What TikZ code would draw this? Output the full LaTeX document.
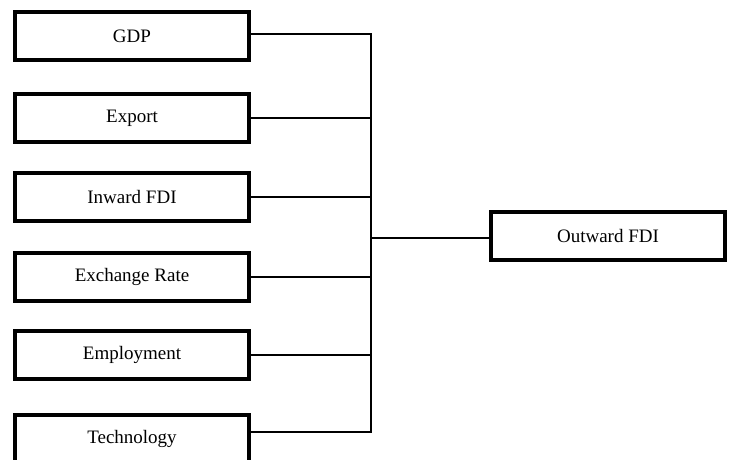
\documentclass[tikz,border=0pt]{standalone}
\usepackage{fontspec}
\setmainfont{Liberation Serif}
\begin{document}
\begin{tikzpicture}[x=1pt,y=-1pt,
  factor/.style={draw=black,line width=3.5pt,minimum width=234pt,minimum height=48pt,inner sep=0pt,font=\fontsize{19}{21}\selectfont,fill=white},
  link/.style={line width=2pt,black}]
\useasboundingbox (0,0) rectangle (733,459);
\node[factor] (gdp) at (132,36) {GDP};
\node[factor] (exp) at (132,118) {Export};
\node[factor] (inw) at (132,197) {Inward FDI};
\node[factor] (exr) at (132,277) {Exchange Rate};
\node[factor] (emp) at (132,355) {Employment};
\node[factor] (tec) at (132,439) {Technology};
\node[factor] (out) at (608,236) {Outward FDI};
\coordinate (jg) at (371,34);
\coordinate (je) at (371,118);
\coordinate (ji) at (371,197);
\coordinate (jx) at (371,277);
\coordinate (jm) at (371,355);
\coordinate (jt) at (371,432);
\coordinate (jo) at (371,238);
\draw[link] (gdp.east |- jg) -- (jg) -- (jt) -- (tec.east |- jt);
\draw[link] (exp.east) -- (je);
\draw[link] (inw.east) -- (ji);
\draw[link] (exr.east) -- (jx);
\draw[link] (emp.east) -- (jm);
\draw[link] (jo) -- (out.west |- jo);
\end{tikzpicture}
\end{document}
